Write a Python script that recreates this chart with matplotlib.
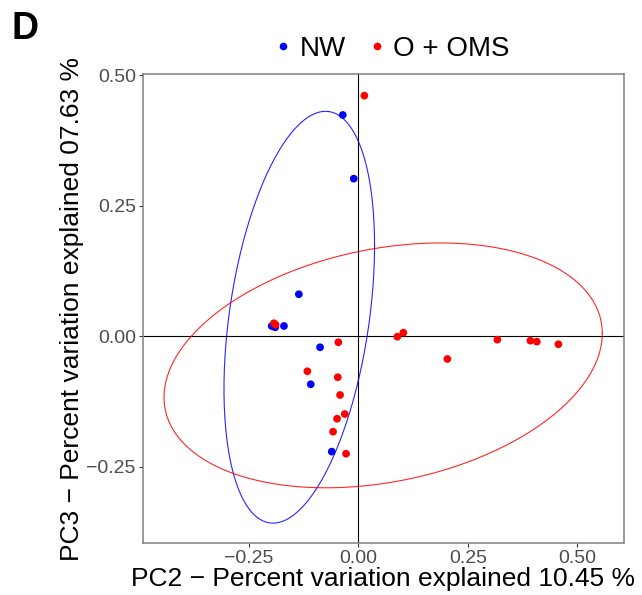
import numpy as np
import matplotlib
matplotlib.use("Agg")
import matplotlib.pyplot as plt
from matplotlib.lines import Line2D

plt.rcParams['font.family'] = ['Liberation Sans', 'DejaVu Sans']

# ---- data ----
groups = ["NW", "O + OMS"]
colors = {"NW": "#0000FF", "O + OMS": "#FF0000"}

nw_pc2 = [-0.0356, -0.0105, -0.136, -0.198, -0.190, -0.194, -0.170, -0.0875, -0.1088, -0.0608]
nw_pc3 = [0.424, 0.302, 0.0805, 0.0197, 0.0172, 0.019, 0.0197, -0.0211, -0.092, -0.221]

oms_pc2 = [0.0137, -0.193, -0.189, -0.0457, -0.1165, -0.047, -0.0418, -0.031, -0.0487,
           -0.0578, -0.0281, 0.0891, 0.1028, 0.2034, 0.3176, 0.393, 0.4077, 0.457]
oms_pc3 = [0.461, 0.025, 0.022, -0.0115, -0.067, -0.0785, -0.1125, -0.149, -0.158,
           -0.1828, -0.225, -0.0008, 0.0069, -0.0435, -0.0065, -0.0084, -0.0103, -0.0153]

xticks = [-0.25, 0.00, 0.25, 0.50]
yticks = [-0.25, 0.00, 0.25, 0.50]
xlabel = "PC2 \u2212 Percent variation explained 10.45 %"
ylabel = "PC3 \u2212 Percent variation explained 07.63 %"


def cov_trob(X, nu=5, maxit=25, tol=0.01):
    n, p = X.shape
    wt = np.ones(n)
    loc = X.mean(axis=0)
    w = np.sqrt(wt)
    Xc = X - loc
    for _ in range(maxit):
        w0 = w
        Xc = X - loc
        _, d, vt = np.linalg.svd(np.sqrt(w / w.sum())[:, None] * Xc, full_matrices=False)
        wX = Xc @ vt.T @ np.diag(1.0 / d)
        Q = (wX ** 2).sum(axis=1)
        w = wt * (nu + p) / (nu + Q)
        loc = (w[:, None] * X).sum(axis=0) / w.sum()
        if np.all(np.abs(w - w0) < tol):
            break
    cov = (np.sqrt(w)[:, None] * Xc).T @ (np.sqrt(w)[:, None] * Xc) / wt.sum()
    return loc, cov


def stat_ellipse(x, y, level=0.95, segments=300):
    X = np.column_stack([x, y])
    n = X.shape[0]
    loc, shape = cov_trob(X)
    dfd = n - 1
    qf = (dfd / 2.0) * ((1 - level) ** (-2.0 / dfd) - 1)
    radius = np.sqrt(2 * qf)
    L = np.linalg.cholesky(shape)
    ang = np.linspace(0, 2 * np.pi, segments + 1)
    circ = np.column_stack([np.cos(ang), np.sin(ang)])
    ell = loc + radius * (circ @ L.T)
    return ell[:, 0], ell[:, 1]


fig = plt.figure(figsize=(6.42, 5.95), dpi=100)
ax = fig.add_axes([0.2223, 0.0866, 0.7497, 0.789])

ax.axhline(0, color="black", lw=0.8, zorder=1)
ax.axvline(0, color="black", lw=0.8, zorder=1)

data = {"NW": (nw_pc2, nw_pc3), "O + OMS": (oms_pc2, oms_pc3)}
for g in groups:
    xs, ys = data[g]
    ex, ey = stat_ellipse(np.array(xs), np.array(ys))
    ax.plot(ex, ey, color=colors[g], lw=0.8, alpha=0.85, zorder=2)
for g in groups:
    xs, ys = data[g]
    ax.scatter(xs, ys, s=31, color=colors[g], edgecolors="none", zorder=3)

ax.set_xlim(-0.4927, 0.607)
ax.set_ylim(-0.397, 0.5025)
ax.set_xticks(xticks)
ax.set_yticks(yticks)
ax.set_xticklabels([f"{t:.2f}".replace("-", "\u2212") for t in xticks])
ax.set_yticklabels([f"{t:.2f}".replace("-", "\u2212") for t in yticks])
ax.tick_params(axis="both", length=3, width=0.8, color="#333333",
               labelcolor="#4D4D4D", labelsize=14, pad=2)
for s in ax.spines.values():
    s.set_color("#7F7F7F")
    s.set_linewidth(1.1)

ax.set_xlabel(xlabel, fontsize=19, color="black", labelpad=0)
ax.set_ylabel(ylabel, fontsize=19, color="black", labelpad=2)

handles = [Line2D([], [], marker="o", ls="none", color=colors[g], markersize=4.5) for g in groups]
fig.legend(handles, groups, loc="center", bbox_to_anchor=(0.607, 0.918), ncol=2,
           frameon=False, fontsize=20, handletextpad=0.1, columnspacing=0.6,
           handlelength=1.0, borderaxespad=0)

fig.text(0.018, 0.952, "D", fontsize=27, fontweight="bold", va="center", ha="left")

fig.savefig("out.png", dpi=100)
